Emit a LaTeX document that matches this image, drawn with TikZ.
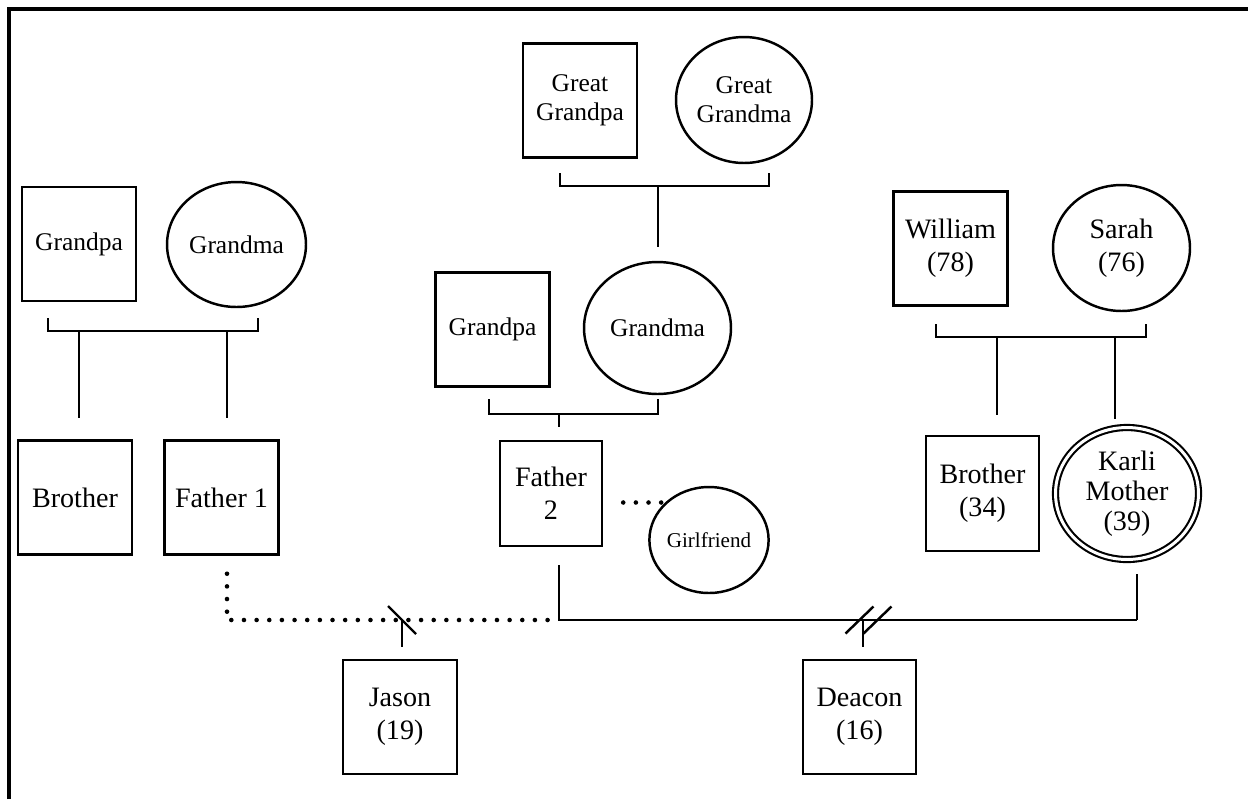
\documentclass[tikz,border=0pt]{standalone}
\usepackage{fontspec}
\setmainfont{Liberation Serif}
\usetikzlibrary{shapes.geometric, calc}
\newcommand{\bigtxt}{\fontsize{16}{19}\selectfont}
\newcommand{\smalltxt}{\fontsize{14.5}{16.5}\selectfont}
\newcommand{\tinytxt}{\fontsize{12}{14}\selectfont}
\tikzset{
  male/.style={draw, rectangle, line width=1.4pt, minimum width=2.28cm, minimum height=2.28cm, inner sep=0pt, align=center, font=\bigtxt},
  female/.style={draw, ellipse, line width=1.4pt, minimum width=2.76cm, minimum height=2.52cm, inner sep=0pt, align=center, font=\bigtxt},
  link/.style={line width=1.4pt},
  dots/.style={line width=2.6pt, line cap=round, dash pattern=on 0pt off 7.2pt},
}
\begin{document}
\begin{tikzpicture}[x=0.02cm, y=-0.02cm]
			\useasboundingbox (0,0) rectangle (1248,799);
			% Frame
			\draw[line width=1.8pt] (9,799) -- (9,9) -- (1248,9);
			
			% Left family
			\node[male, font=\smalltxt] (gpa1) at (79,244) {Grandpa};
			\node[female, font=\smalltxt, minimum width=2.78cm, minimum height=2.5cm] (gma1) at (236.5,244.5) {Grandma};
			\node[male] (bro1) at (75,497.5) {Brother};
			\node[male] (fa1) at (221.5,497.5) {Father 1};
			
			% Middle family
			\node[male, font=\smalltxt] (ggpa) at (580,100.5) {Great\\Grandpa};
			\node[female, font=\smalltxt, minimum width=2.72cm] (ggma) at (744,100) {Great\\Grandma};
			\node[male, font=\smalltxt] (gpa2) at (492.5,329.5) {Grandpa};
			\node[female, font=\smalltxt, minimum width=2.94cm, minimum height=2.64cm] (gma2) at (657.5,328) {Grandma};
			\node[male, minimum width=2.04cm, minimum height=2.1cm] (fa2) at (551,493.5) {Father\\2};
			\node[female, font=\tinytxt, minimum width=2.24cm, minimum height=2.12cm] (gf) at (709,540) {Girlfriend};
			
			% Right family
			\node[male] (wil) at (950.5,248.5) {William\\(78)};
			\node[female, minimum width=2.74cm] (sar) at (1121.5,248) {Sarah\\(76)};
			\node[male, minimum width=2.26cm, minimum height=2.3cm] (bro2) at (982.5,493.5) {Brother\\(34)};
			\node[female, double, line width=1.2pt, double distance=1.7pt, minimum width=2.86cm, minimum height=2.64cm, font=\fontsize{16}{17}\selectfont] (kar) at (1127,493.5) {Karli\\Mother\\(39)};
			
			% Children
			\node[male] (jas) at (400,717) {Jason\\(19)};
			\node[male, minimum width=2.26cm] (dea) at (859.5,717) {Deacon\\(16)};
			
			% Couple brackets
			\coordinate (lb) at (48,331);
			\coordinate (gb) at (560,186);
			\coordinate (mb) at (489,414);
			\coordinate (rb) at (936,337);
			\draw[link] ($(lb)+(0,-13)$) -- (lb) -- ++(210,0) -- ++(0,-13);
			\draw[link] ($(gb)+(0,-13)$) -- (gb) -- ++(209,0) -- ++(0,-13);
			\draw[link] ($(mb)+(0,-15)$) -- (mb) -- ++(169,0) -- ++(0,-15);
			\draw[link] ($(rb)+(0,-13)$) -- (rb) -- ++(210,0) -- ++(0,-13);
			
			% Lines down to the children
			\coordinate (l1) at (79,331);
			\coordinate (l2) at (227,331);
			\coordinate (g1) at (658,186);
			\coordinate (m1) at (559,414);
			\coordinate (r1) at (997,337);
			\coordinate (r2) at (1115,337);
			\draw[link, shorten >=0.42cm] (l1) -- (l1 |- bro1.north);
			\draw[link, shorten >=0.42cm] (l2) -- (l2 |- fa1.north);
			\draw[link, shorten >=0.28cm] (g1) -- (g1 |- gma2.north);
			\draw[link, shorten >=0.26cm] (m1) -- (m1 |- fa2.north);
			\draw[link, shorten >=0.4cm] (r1) -- (r1 |- bro2.north);
			\draw[link, shorten >=0.14cm] (r2) -- (r2 |- kar.north);
			
			% Parents of Jason and Deacon
			\coordinate (pl) at (227,620);
			\coordinate (pm) at (559,620);
			\coordinate (pr) at (1137,620);
			\draw[dots] (pl |- fa1.south) ++(0,18) -- (pl) -- (pm);
			\draw[link, shorten <=0.36cm] (pm |- fa2.south) -- (pm) -- (pr);
			\draw[link, shorten >=0.26cm] (pr) -- (pr |- kar.south);
			\draw[dots] ($(fa2.east)+(20,9)$) -- ++(39,0);
			
			% Jason
			\coordinate (js) at (402,620);
			\draw[link, shorten >=0.24cm] (js) -- (js |- jas.north);
			\draw[link] ($(js)+(-14,-14)$) -- ($(js)+(14,14)$);
			
			% Deacon
			\coordinate (ds) at (863,620);
			\draw[link, shorten >=0.24cm] (ds) -- (ds |- dea.north);
			\foreach \dx in {-3.5,14.5}
			{
				\draw[link] ($(ds)+(\dx,0)+(-14,13.5)$) -- ++(28,-27);
			}
			
		\end{tikzpicture}
\end{document}
